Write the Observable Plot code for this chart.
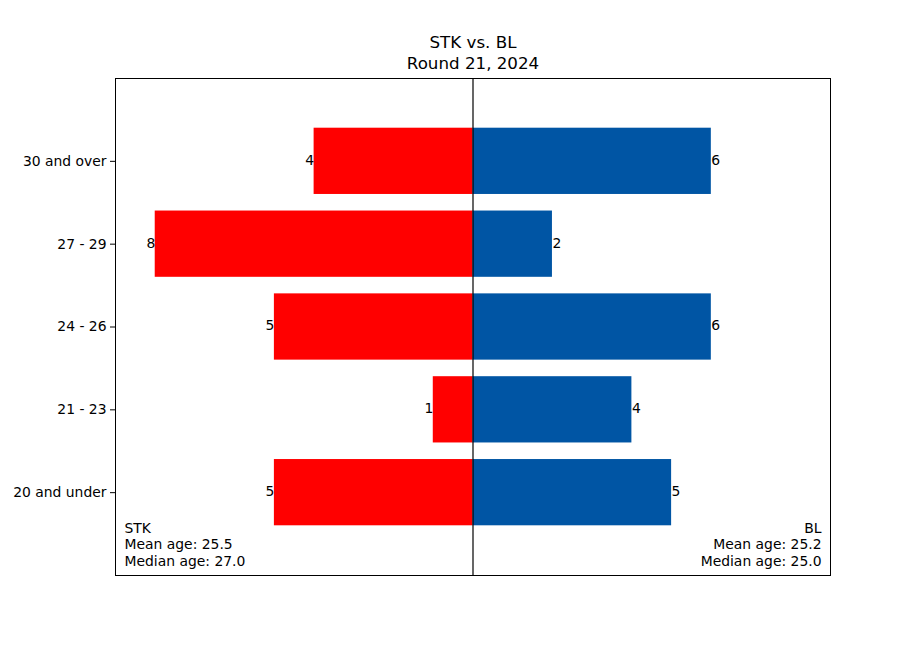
<!DOCTYPE html>
<html>
<head>
<meta charset="utf-8">
<script src="https://cdn.jsdelivr.net/npm/d3@7"></script>
<script src="https://cdn.jsdelivr.net/npm/@observablehq/plot@0.6"></script>
<style>
  html, body { margin: 0; padding: 0; background: #fff; }
  svg { display: block; }
</style>
</head>
<body>
<div id="chart"></div>
<script>
const ageGroups = ["20 and under", "21 - 23", "24 - 26", "27 - 29", "30 and over"];
const stkCounts = [5, 1, 5, 8, 4];
const blCounts = [5, 4, 6, 2, 6];
const teamLeft = "STK";
const teamRight = "BL";
const titleLines = ["STK vs. BL", "Round 21, 2024"];
const leftNote = ["STK", "Mean age: 25.5", "Median age: 27.0"];
const rightNote = ["BL", "Mean age: 25.2", "Median age: 25.0"];
const colorLeft = "#ff0000";
const colorRight = "#0055a4";

const rows = ageGroups.map((g, i) => ({group: g, i, stk: stkCounts[i], bl: blCounts[i]}));

const font = "DejaVu Sans, sans-serif";

const chart = Plot.plot({
  width: 922,
  height: 646,
  marginLeft: 115,
  marginRight: 92,
  marginTop: 78,
  marginBottom: 71,
  style: {fontFamily: font, fontSize: "13.9px", color: "#000", background: "#fff"},
  x: {domain: [-9, 9], axis: null},
  y: {domain: [-1, 5], axis: null},
  marks: [
    Plot.rect(rows, {x1: 0, x2: d => -d.stk, y1: d => d.i - 0.4, y2: d => d.i + 0.4, fill: colorLeft}),
    Plot.rect(rows, {x1: 0, x2: d => d.bl, y1: d => d.i - 0.4, y2: d => d.i + 0.4, fill: colorRight}),
    Plot.text(rows, {x: d => -d.stk, y: "i", dy: -1, text: d => String(d.stk), textAnchor: "end", fill: "#000", fontSize: 13.9}),
    Plot.text(rows, {x: d => d.bl, y: "i", dy: -1, text: d => String(d.bl), textAnchor: "start", fill: "#000", fontSize: 13.9}),
    Plot.ruleX([0], {stroke: "#000", strokeWidth: 1.2}),
    Plot.axisY({ticks: d3.range(ageGroups.length), tickFormat: d => ageGroups[d], tickSize: 5, tickPadding: 4, label: null, fontSize: 13.9, stroke: "#000"}),
    Plot.text([leftNote.join("\n")], {frameAnchor: "bottom-left", dx: 9, dy: -10, lineAnchor: "bottom", textAnchor: "start", lineHeight: 1.16, fontSize: 13.9, fill: "#000"}),
    Plot.text([rightNote.join("\n")], {frameAnchor: "bottom-right", dx: -9, dy: -10, lineAnchor: "bottom", textAnchor: "end", lineHeight: 1.16, fontSize: 13.9, fill: "#000"}),
    Plot.text([titleLines.join("\n")], {frameAnchor: "top", dy: -10, lineAnchor: "bottom", lineHeight: 1.2, fontSize: 16.7, fill: "#000"}),
    Plot.frame({stroke: "#000", strokeWidth: 1})
  ]
});
document.getElementById("chart").appendChild(chart);
</script>
</body>
</html>
